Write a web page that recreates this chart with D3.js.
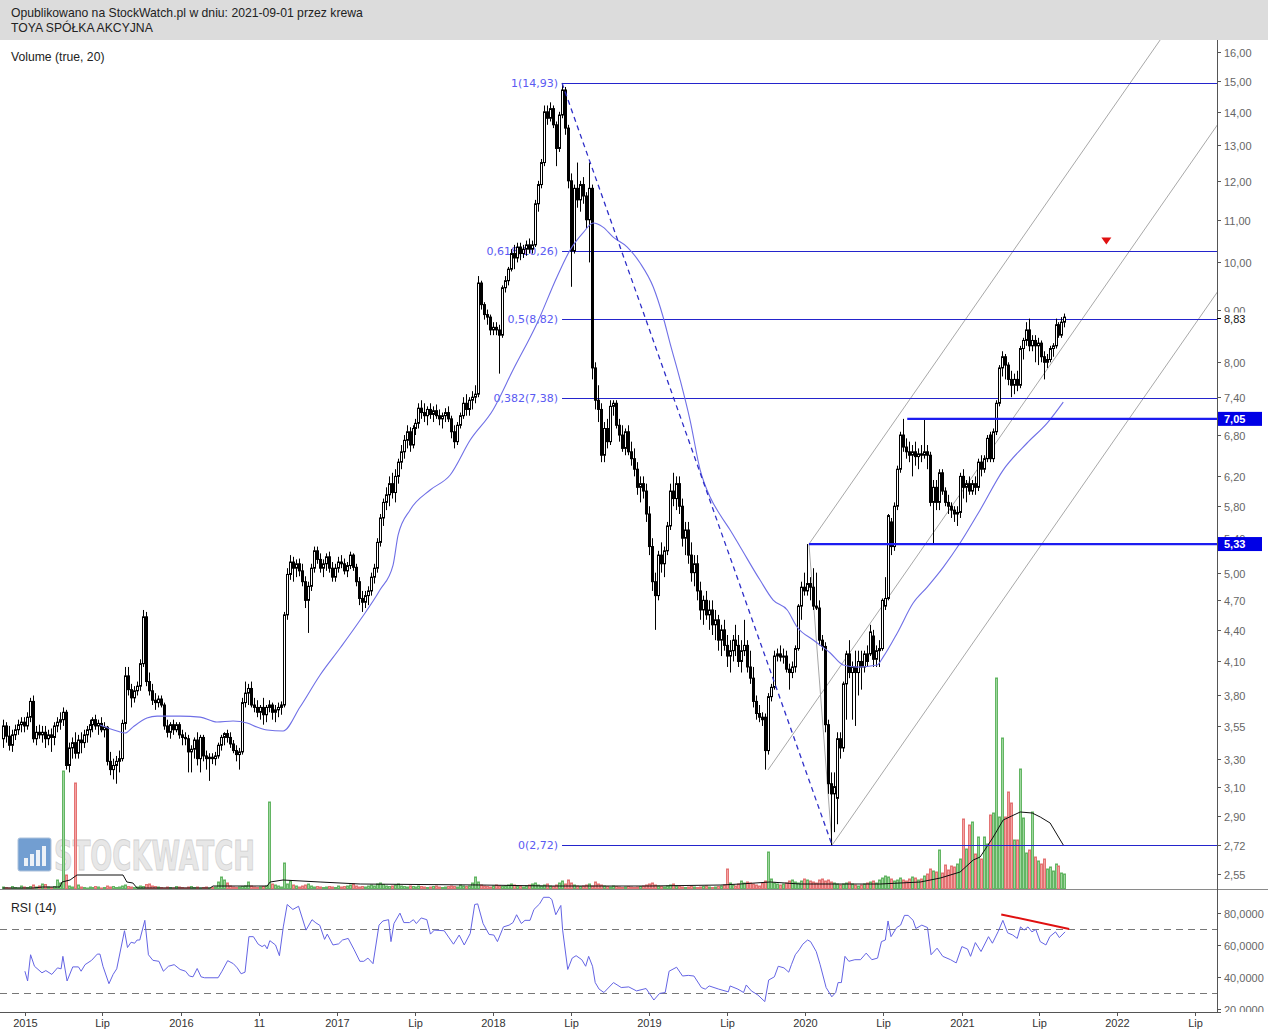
<!DOCTYPE html>
<html><head><meta charset="utf-8">
<script src="https://cdn.jsdelivr.net/npm/d3@7"></script>
<style>body{margin:0;background:#fff;}svg{display:block;font-family:"Liberation Sans",Arial,sans-serif;}</style>
</head><body><svg id="c" width="1268" height="1030"></svg>
<script>
const headerLine1 = "Opublikowano na StockWatch.pl w dniu: 2021-09-01 przez krewa";
const headerLine2 = "TOYA SPÓŁKA AKCYJNA";
const volumeTitle = "Volume (true, 20)";
const rsiTitle = "RSI (14)";
const weekStart = "2014-11-10";

const open = [3.45,3.55,3.47,3.40,3.48,3.52,3.56,3.58,3.55,3.62,
3.75,3.45,3.50,3.48,3.50,3.45,3.48,3.46,3.55,3.58,
3.60,3.66,3.25,3.38,3.42,3.34,3.44,3.42,3.48,3.52,
3.56,3.60,3.55,3.57,3.52,3.54,3.28,3.22,3.25,3.28,
3.30,3.57,3.97,3.85,3.78,3.84,3.88,4.08,4.53,3.92,
3.84,3.76,3.74,3.77,3.72,3.55,3.50,3.56,3.52,3.56,
3.48,3.46,3.45,3.35,3.37,3.44,3.30,3.46,3.32,3.30,
3.31,3.30,3.32,3.40,3.46,3.49,3.46,3.41,3.36,3.33,
3.35,3.74,3.82,3.86,3.72,3.70,3.66,3.70,3.64,3.70,
3.72,3.66,3.68,3.70,3.72,4.55,4.98,5.12,5.05,5.10,
5.02,4.90,4.70,4.85,5.05,5.25,5.15,5.05,5.10,5.18,
5.05,4.95,5.05,5.12,5.10,5.02,5.08,5.20,5.06,4.90,
4.72,4.68,4.75,4.80,4.95,5.05,5.35,5.65,5.85,5.95,
6.10,5.98,6.20,6.40,6.55,6.72,6.85,6.65,6.90,6.98,
7.22,7.15,7.10,7.20,7.12,7.18,7.10,7.05,7.10,7.15,
7.05,6.85,6.70,6.95,7.10,7.30,7.20,7.35,7.40,7.45,
9.55,9.10,8.90,8.85,8.60,8.65,8.60,8.50,9.45,9.60,
9.85,10.20,10.10,10.35,10.20,10.30,10.40,10.30,10.40,11.40,
11.90,12.50,14.00,13.80,14.10,13.60,12.90,13.90,14.70,13.50,
12.00,10.26,11.80,11.50,11.90,11.60,11.00,11.80,7.90,7.35,
7.20,6.50,6.90,6.70,7.25,7.30,6.95,6.80,6.60,6.85,
6.55,6.45,6.30,6.05,6.10,6.00,5.70,5.30,4.90,4.75,
5.20,5.10,5.25,5.55,6.00,5.90,6.10,5.80,5.40,5.50,
5.20,5.00,5.10,4.80,4.60,4.70,4.55,4.60,4.45,4.50,
4.30,4.40,4.25,4.15,4.20,4.30,4.25,4.10,4.20,4.25,
4.05,3.95,3.75,3.65,3.62,3.62,3.36,3.79,3.87,4.15,
4.17,4.14,4.15,4.03,4.00,4.05,4.22,4.64,4.84,4.80,
4.88,4.84,4.64,4.62,4.30,4.24,3.56,3.12,3.05,3.02,
3.45,3.38,3.90,4.17,4.00,4.05,4.00,4.10,4.05,4.17,
4.17,4.34,4.12,4.20,4.22,4.64,4.72,5.60,5.30,5.80,
6.30,6.80,6.62,6.55,6.50,6.55,6.48,6.52,6.50,6.55,
6.50,5.85,6.05,5.85,6.25,6.00,5.85,5.80,5.75,5.70,
5.72,6.20,6.05,6.10,6.00,6.10,6.05,6.40,6.30,6.45,
6.80,6.45,6.85,7.30,7.90,8.10,7.95,7.70,7.60,7.70,
7.60,8.25,8.40,8.60,8.30,8.40,8.30,8.35,8.10,8.00,
8.05,8.25,8.30,8.70,8.50,8.75];

const high = [3.60,3.58,3.55,3.52,3.56,3.60,3.62,3.62,3.66,3.78,
3.80,3.55,3.56,3.55,3.55,3.52,3.53,3.58,3.62,3.66,
3.70,3.68,3.42,3.46,3.50,3.48,3.50,3.52,3.55,3.60,
3.62,3.64,3.60,3.62,3.58,3.55,3.35,3.30,3.32,3.36,
3.60,4.05,4.05,3.90,3.88,3.92,4.12,4.60,4.58,4.00,
3.90,3.82,3.80,3.80,3.74,3.60,3.58,3.60,3.58,3.58,
3.52,3.50,3.48,3.40,3.46,3.50,3.48,3.48,3.36,3.34,
3.34,3.35,3.42,3.48,3.50,3.52,3.50,3.44,3.40,3.38,
3.78,3.92,3.90,3.92,3.78,3.76,3.72,3.78,3.72,3.76,
3.74,3.72,3.74,3.75,4.58,5.05,5.20,5.18,5.15,5.16,
5.10,4.96,4.90,5.10,5.30,5.30,5.22,5.15,5.22,5.24,
5.12,5.10,5.18,5.20,5.16,5.12,5.24,5.22,5.10,4.95,
4.80,4.80,4.85,5.00,5.10,5.40,5.70,5.90,6.05,6.20,
6.25,6.30,6.45,6.65,6.80,6.95,6.92,6.95,7.05,7.30,
7.35,7.30,7.25,7.30,7.25,7.28,7.20,7.15,7.22,7.25,
7.10,6.95,7.00,7.15,7.40,7.45,7.40,7.50,7.60,9.70,
9.60,9.15,9.00,8.90,8.75,8.75,8.70,9.50,9.70,9.90,
10.30,10.40,10.45,10.45,10.40,10.50,10.55,10.50,11.50,12.00,
12.60,14.20,14.20,14.30,14.20,13.70,14.00,14.93,14.80,13.60,
12.20,11.90,12.50,12.00,12.10,11.70,12.50,11.90,8.00,7.60,
7.30,7.00,7.05,7.35,7.35,7.35,7.05,6.95,6.90,6.95,
6.70,6.60,6.40,6.20,6.20,6.10,5.80,5.40,5.00,5.25,
5.35,5.30,5.60,6.10,6.25,6.20,6.20,5.90,5.60,5.60,
5.35,5.20,5.20,4.90,4.75,4.80,4.70,4.70,4.60,4.55,
4.45,4.50,4.35,4.30,4.35,4.45,4.35,4.30,4.50,4.30,
4.20,4.05,3.80,3.72,3.66,3.65,3.82,3.90,4.20,4.22,
4.25,4.22,4.20,4.08,4.10,4.25,4.66,4.90,5.00,5.33,
4.95,5.05,5.00,4.70,4.35,4.28,3.60,3.20,3.20,3.50,
3.50,3.92,4.20,4.30,4.10,4.20,4.20,4.20,4.20,4.25,
4.45,4.40,4.25,4.30,4.72,4.95,5.70,5.65,5.85,6.35,
6.85,7.05,6.75,6.70,6.65,6.70,6.60,6.65,7.05,6.65,
6.55,6.15,6.15,6.30,6.30,6.05,5.95,5.85,5.80,5.80,
6.25,6.30,6.15,6.20,6.15,6.20,6.45,6.50,6.50,6.80,
6.85,6.90,7.35,7.95,8.20,8.15,8.00,7.85,7.80,7.85,
8.30,8.45,8.75,8.82,8.50,8.50,8.45,8.40,8.20,8.15,
8.30,8.35,8.82,8.75,8.85,8.92];

const low = [3.38,3.42,3.36,3.35,3.44,3.48,3.50,3.50,3.52,3.58,
3.42,3.40,3.45,3.42,3.38,3.40,3.35,3.40,3.50,3.52,
3.55,3.22,3.20,3.30,3.30,3.30,3.34,3.38,3.42,3.46,
3.50,3.52,3.48,3.50,3.46,3.25,3.18,3.15,3.12,3.20,
3.28,3.52,3.80,3.70,3.74,3.80,3.84,4.05,3.88,3.80,
3.72,3.68,3.70,3.70,3.52,3.46,3.45,3.48,3.50,3.45,
3.40,3.40,3.20,3.20,3.30,3.25,3.20,3.28,3.22,3.14,
3.26,3.25,3.30,3.36,3.40,3.42,3.38,3.34,3.28,3.22,
3.33,3.70,3.72,3.70,3.66,3.62,3.60,3.56,3.58,3.66,
3.60,3.58,3.62,3.64,3.70,4.50,4.92,4.90,4.95,4.96,
4.85,4.62,4.37,4.80,5.00,5.10,5.00,4.95,5.02,5.00,
4.90,4.90,5.00,5.05,4.98,4.95,5.04,5.02,4.85,4.65,
4.58,4.62,4.65,4.75,4.88,5.00,5.30,5.55,5.75,5.80,
5.90,5.85,6.10,6.30,6.45,6.60,6.55,6.60,6.80,6.90,
7.05,7.00,6.95,7.05,7.00,7.05,6.95,6.90,7.00,7.00,
6.75,6.60,6.65,6.90,7.05,7.10,7.10,7.20,7.30,7.40,
9.00,8.80,8.70,8.50,8.50,8.50,7.80,8.45,9.35,9.50,
9.80,9.85,10.00,10.05,10.10,10.15,10.20,10.20,10.35,11.20,
11.80,12.40,13.60,13.70,13.50,12.40,12.80,13.80,13.30,11.80,
9.47,10.20,11.30,11.20,11.40,10.80,10.00,7.70,7.20,7.00,
6.40,6.40,6.60,6.65,7.10,6.90,6.70,6.55,6.50,6.50,
6.35,6.20,5.95,5.85,5.90,5.60,5.20,4.80,4.40,4.70,
5.00,4.95,5.20,5.50,5.80,5.75,5.70,5.30,5.20,5.10,
4.90,4.85,4.70,4.50,4.45,4.50,4.40,4.35,4.30,4.20,
4.15,4.20,4.05,4.00,4.10,4.15,4.05,4.00,4.15,4.00,
3.90,3.70,3.60,3.58,3.55,3.22,3.33,3.75,3.85,4.10,
4.10,4.08,4.00,3.85,3.95,4.00,4.20,4.50,4.75,4.75,
4.70,4.60,4.60,4.25,4.20,3.50,3.05,2.72,2.80,2.85,
3.30,3.35,3.60,3.95,3.60,3.55,3.80,3.85,4.00,4.05,
4.15,4.05,4.05,4.05,4.20,4.60,4.70,5.20,5.25,5.75,
6.25,6.55,6.45,6.40,6.20,6.35,6.30,6.40,6.45,6.30,
5.80,5.33,5.75,5.75,5.95,5.80,5.70,5.65,5.60,5.55,
5.65,5.90,5.85,5.95,5.95,5.95,6.00,6.20,6.25,6.40,
6.40,6.40,6.80,7.25,7.75,7.70,7.60,7.40,7.45,7.50,
7.55,8.05,8.30,8.20,8.20,8.00,7.95,8.00,7.70,7.90,
8.00,8.10,8.25,8.45,8.45,8.65];

const close = [3.55,3.47,3.40,3.48,3.52,3.56,3.58,3.55,3.62,3.75,
3.45,3.50,3.48,3.50,3.45,3.48,3.46,3.55,3.58,3.60,
3.66,3.25,3.38,3.42,3.34,3.44,3.42,3.48,3.52,3.56,
3.60,3.55,3.57,3.52,3.54,3.28,3.22,3.25,3.28,3.30,
3.57,3.97,3.85,3.78,3.84,3.88,4.08,4.53,3.92,3.84,
3.76,3.74,3.77,3.72,3.55,3.50,3.56,3.52,3.56,3.48,
3.46,3.45,3.35,3.37,3.44,3.30,3.46,3.32,3.30,3.31,
3.30,3.32,3.40,3.46,3.49,3.46,3.41,3.36,3.33,3.35,
3.74,3.82,3.86,3.72,3.70,3.66,3.70,3.64,3.70,3.72,
3.66,3.68,3.70,3.72,4.55,4.98,5.12,5.05,5.10,5.02,
4.90,4.70,4.85,5.05,5.25,5.15,5.05,5.10,5.18,5.05,
4.95,5.05,5.12,5.10,5.02,5.08,5.20,5.06,4.90,4.72,
4.68,4.75,4.80,4.95,5.05,5.35,5.65,5.85,5.95,6.10,
5.98,6.20,6.40,6.55,6.72,6.85,6.65,6.90,6.98,7.22,
7.15,7.10,7.20,7.12,7.18,7.10,7.05,7.10,7.15,7.05,
6.85,6.70,6.95,7.10,7.30,7.20,7.35,7.40,7.45,9.55,
9.10,8.90,8.85,8.60,8.65,8.60,8.50,9.45,9.60,9.85,
10.20,10.10,10.35,10.20,10.30,10.40,10.30,10.40,11.40,11.90,
12.50,14.00,13.80,14.10,13.60,12.90,13.90,14.70,13.50,12.00,
10.26,11.80,11.50,11.90,11.60,11.00,11.80,7.90,7.35,7.20,
6.50,6.90,6.70,7.25,7.30,6.95,6.80,6.60,6.85,6.55,
6.45,6.30,6.05,6.10,6.00,5.70,5.30,4.90,4.75,5.20,
5.10,5.25,5.55,6.00,5.90,6.10,5.80,5.40,5.50,5.20,
5.00,5.10,4.80,4.60,4.70,4.55,4.60,4.45,4.50,4.30,
4.40,4.25,4.15,4.20,4.30,4.25,4.10,4.20,4.25,4.05,
3.95,3.75,3.65,3.62,3.60,3.36,3.79,3.87,4.15,4.17,
4.14,4.15,4.03,4.00,4.05,4.22,4.64,4.84,4.80,4.88,
4.84,4.64,4.62,4.30,4.24,3.56,3.12,3.05,3.10,3.45,
3.38,3.90,4.17,4.00,4.05,4.00,4.10,4.05,4.17,4.10,
4.38,4.12,4.20,4.22,4.70,4.72,5.68,5.30,5.80,6.30,
6.80,6.62,6.55,6.50,6.55,6.48,6.52,6.50,6.55,6.50,
5.85,6.05,5.85,6.25,6.00,5.85,5.80,5.75,5.70,5.72,
6.20,6.05,6.10,6.00,6.10,6.05,6.40,6.30,6.45,6.75,
6.45,6.85,7.30,7.90,8.10,7.95,7.70,7.60,7.70,7.60,
8.25,8.40,8.60,8.30,8.40,8.30,8.35,8.10,8.00,8.05,
8.25,8.30,8.70,8.50,8.75,8.85];

const volume = [20,15,10,25,15,10,30,20,15,25,
40,20,30,50,45,20,15,25,90,60,
1180,140,30,20,1060,40,20,15,10,20,
15,25,20,10,15,30,20,25,15,20,
30,40,25,20,15,20,30,25,45,50,
30,25,20,15,10,20,15,10,25,20,
15,10,20,25,15,20,10,15,20,10,
15,20,70,120,90,60,30,20,15,20,
25,30,70,30,20,15,20,25,30,870,
50,40,30,20,260,50,80,40,30,20,
30,40,50,30,20,25,20,15,20,25,
20,15,30,20,25,30,40,50,30,20,
25,20,30,40,30,50,60,45,30,25,
30,40,50,30,25,20,30,25,20,30,
25,20,15,20,25,30,20,15,20,25,
30,25,20,40,30,25,30,60,120,70,
40,30,25,20,30,40,30,25,30,40,
50,40,30,25,20,30,40,50,60,40,
30,40,50,30,25,40,60,80,50,90,
60,40,30,25,30,40,50,30,70,50,
40,30,25,20,30,25,20,15,20,25,
20,15,20,25,30,40,50,60,40,30,
25,20,30,40,50,30,25,20,15,20,
25,20,15,20,25,30,20,15,20,25,
30,40,200,60,40,30,50,80,60,70,
60,50,40,30,60,80,370,100,60,50,
40,50,60,80,90,70,60,80,100,90,
80,70,60,90,100,80,90,70,60,50,
40,50,60,70,50,40,30,40,50,60,
70,80,60,90,110,130,120,100,80,90,
110,90,80,100,120,110,90,100,130,150,
200,180,170,390,160,240,190,230,220,250,
300,700,400,640,670,350,520,300,520,450,
740,760,2110,720,1510,720,970,860,490,490,
1200,710,360,390,770,320,280,250,300,200,
220,180,250,230,160,150];

const maWeeks = [32.5,38.2,40.9,43.5,48.2,51.6,59.3,66,71.6,77,81.7,85,88.4,93.7,99.4,106.1,112.8,119.5,126.1,130.5,132.2,136.2,142.9,149.6,156.3,163.9,170.6,178.7,185.3,189.7,194,197.4,200.7,204.1,208.8,213.1,217.5,220.8,223.1,226.5,229.8,233.2,236.5,239.9,243.2,246.6,253.2,257.6,262.3,265.6,271,276.7,281,285.7,292.4,294.4,299.1,304.4,309.1,314.5,320.1,326.8,334.5,342.5,349.2,354.6];
const maValues = [3.557,3.510,3.494,3.541,3.613,3.629,3.629,3.621,3.581,3.589,3.573,3.541,3.518,3.510,3.703,3.978,4.225,4.498,4.809,5.086,5.439,5.752,6.014,6.219,6.724,7.191,7.863,8.735,9.680,10.28,10.68,10.92,10.82,10.58,10.35,9.986,9.465,8.852,8.352,7.689,7.031,6.288,5.920,5.687,5.500,5.295,4.918,4.703,4.600,4.428,4.301,4.178,4.068,4.049,4.068,4.142,4.370,4.672,4.842,5.063,5.342,5.752,6.288,6.680,6.984,7.320];

const volMaWeeks = [0,10.1,13.4,19.1,19.8,22.5,24.8,40.2,41.5,43.5,44.9,69.3,70.3,88.4,89.4,93.7,106.1,119.5,159.6,183,216.4,240.1,246.6,256.6,266.6,276.7,293.4,306.8,313.5,320.1,324.5,326.8,331.2,334.5,340.2,344.2,346.9,350.2,354.6];
const volMaValues = [10,10,20,20,70,90,140,140,70,60,10,10,30,30,70,90,70,50,40,30,30,40,50,70,50,50,50,70,110,170,290,320,520,690,770,760,720,660,440];

const rsiWeeks = [7.4,8.3,9.3,10.6,13.1,14.4,16.4,18.3,19.5,20.1,21.5,23.4,25.3,26.2,27.5,29.7,31.6,32.5,33.5,35.5,36.9,38.1,40.7,41.7,42.9,44.1,44.9,45.8,47.5,48.7,50.2,52.2,53.7,55.4,57.3,59.3,61.1,62.4,63.6,65,66.3,67.5,72,73.3,75.2,77.1,78.4,79.7,81,82.3,83.8,85.4,86.7,87.6,88.4,89.3,91.2,92.5,93.8,95.1,97,98.9,101.4,103.4,104.7,106,107.6,108.5,110.4,112.3,113.6,115.5,117.5,119.4,120.7,122.1,123.8,125.8,127.1,129,129.8,130.8,132.8,134.1,136,137.3,138.3,139.9,141.8,143,144.3,147.6,150.7,152.6,154.3,156.3,157.8,158.8,160.6,162.6,164.2,165.4,167.4,169.3,170.6,171.8,173.4,174.6,176.3,177.6,179.5,180.8,182.7,183.6,184.9,186.6,187.2,188.9,190.4,191.7,193.6,194.9,195.9,197.2,198.1,199.4,201,204.2,206.8,209.3,211.9,215.1,217.7,219.6,221.5,222.8,225.3,227.3,229.2,231.1,233.6,234.9,236.2,239.4,242.6,243.2,245.8,247.7,248.6,250.3,252.5,254.8,256.1,258,259.3,261.2,262.8,263.7,265,266.3,267.5,269.1,270.1,272,273.3,275.3,277.2,278.5,279.3,280.4,281.6,282.9,284.9,286.8,288.7,290.6,292.5,293.8,295.1,296,297,298.9,300.2,301.5,302.7,304.4,305.3,307.3,309.2,310.4,312.4,314.3,316.9,318.8,320.7,322.6,323.6,325.2,327.1,329.6,330.9,332.8,334.4,336,337.7,339.2,340.3,341.5,342.8,344.1,345.4,346.9,348.8,350.1,352,353.3,355.2];
const rsiValues = [43.3,37.2,53.6,46.4,42.3,43.7,41.3,45.4,44.8,52.6,37.2,46,46,43.3,47.4,50.1,54,54,46.4,35.5,41.3,44.8,68.6,58.1,61.4,60.8,62.8,62.8,75.1,53.6,50.1,49.5,43.3,46.4,47.4,44.4,43.3,40.3,39.8,45,39.8,39.2,39.2,43.3,49.9,48,45.4,41.7,42.7,64.9,64.9,60.2,58.7,59.7,57.3,62.4,59.7,53,71,85,81.9,83.9,69,75.5,73.5,72,63.2,66.5,59.7,60.4,62.8,63.8,56.7,49.5,49.5,51.5,48,72.1,74.7,75.5,61.8,73.1,79.6,73.7,73.7,75.5,73.1,76.6,75.5,66.5,69,68.6,60.2,65.9,59.7,66.9,85,85.4,73.1,66.3,65.9,61.8,71,72.1,73.7,78.6,73.1,75.1,75.1,81.9,85.4,89.5,89.5,88.1,78.6,84.4,69,44.4,51.5,53,50.5,46.4,52.6,46.4,36.2,32.1,30,36.2,33.1,33.5,31,32.5,25.3,29.4,30,43.3,45.8,40.3,40.7,40.3,33.1,32.1,34.1,32.1,30.4,34.1,32.1,30,34.7,31,28.4,24.3,37.8,39.8,46.4,45.4,42.7,47.4,53.6,56.7,60.2,62.8,61.8,55.6,47.4,33.1,27.3,30,36.2,36.2,52.6,49.5,50.5,50.5,54.6,50.5,51.5,61.8,62.8,74.7,64.9,70.6,72.1,78.2,78.2,75.1,70,72.1,70.6,53.6,57.7,52.6,50.5,48.5,58.7,57.1,52.6,61.2,55.6,64.9,60.8,68,75.1,67.3,65.9,63.8,71,69,71,67.9,69.4,61.8,59.7,64.9,67.9,64.3,67.9];

const fibValues = [14.93,10.26,8.82,7.38,2.72];
const fibLabels = ["1(14,93)","0,618(10,26)","0,5(8,82)","0,382(7,38)","0(2,72)"];
const fibStartDate = "2018-06-11";
const fibEndDate = "2020-03-04";
const levelLines = [5.33, 7.05];
const levelStartDates = ["2020-01-10", "2020-08-27"];
const lastPrice = 8.83;
const pitchforkDates = ["2019-10-06","2020-01-10","2020-03-04"];
const pitchforkPrices = [3.217,5.33,2.72];
const markerDate = "2021-12-06";
const markerPrice = 10.5;
const rsiTrendDates = ["2021-04-04","2021-09-10"];
const rsiTrendValues = [78.8,69.7];

const priceTicks = [16,15,14,13,12,11,10,9,8,7.4,6.8,6.2,5.8,5.4,5,4.7,4.4,4.1,3.8,3.55,3.3,3.1,2.9,2.72,2.55];
const rsiTicks = [20,40,60,80];
const rsiBands = [30,70];
const timeTicks = ["2015-01-01","2015-07-01","2016-01-01","2016-07-01","2017-01-01","2017-07-01","2018-01-01","2018-07-01","2019-01-01","2019-07-01","2020-01-01","2020-07-01","2021-01-01","2021-07-01","2022-01-01","2022-07-01"];
const timeTickLabels = ["2015","Lip","2016","11","2017","Lip","2018","Lip","2019","Lip","2020","Lip","2021","Lip","2022","Lip"];

// ---------- layout ----------
const W = 1268, H = 1030;
const plotR = 1217, mainT = 40, mainB = 889, rsiB = 1012;
const parse = d3.utcParse("%Y-%m-%d");
const start = parse(weekStart);
const weekDate = w => new Date(start.getTime() + w * 7 * 864e5);

const x = d3.scaleUtc().domain([Date.UTC(2014,10,3,12), Date.UTC(2022,7,22)]).range([0, plotR]);
const y = d3.scaleLog().domain([2.4661, 16.437]).range([mainB, mainT]);
const yVol = d3.scaleLinear().domain([0, 2290]).range([mainB, 660]);
const yRsi = d3.scaleLinear().domain([30, 70]).range([992.5, 928.5]);

const svg = d3.select("#c");
const defs = svg.append("defs");
defs.append("clipPath").attr("id","clipMain").append("rect").attr("x",0).attr("y",mainT).attr("width",plotR).attr("height",mainB-mainT);
defs.append("clipPath").attr("id","clipRsi").append("rect").attr("x",0).attr("y",mainB).attr("width",plotR).attr("height",rsiB-mainB);
defs.append("clipPath").attr("id","clipRsiAxis").append("rect").attr("x",plotR).attr("y",mainB+1).attr("width",W-plotR).attr("height",rsiB-mainB-1);

svg.append("rect").attr("width",W).attr("height",H).attr("fill","#fff");
// header
svg.append("rect").attr("x",0).attr("y",0).attr("width",W).attr("height",mainT).attr("fill","#dcdcdc");
svg.append("text").attr("x",11).attr("y",17).attr("font-size",12.2).attr("fill","#222").text(headerLine1);
svg.append("text").attr("x",11).attr("y",32).attr("font-size",12.2).attr("fill","#222").text(headerLine2);

const gMain = svg.append("g").attr("clip-path","url(#clipMain)");

// watermark
const wm = gMain.append("g").attr("opacity",0.8);
wm.append("rect").attr("x",18).attr("y",838).attr("width",33).attr("height",33).attr("rx",2).attr("fill","#4f86c6").attr("stroke","#9ab4d4");
[[24,858,4,8],[30,854,4,12],[36,850,4,16],[42,846,4,20]].forEach(b=>wm.append("rect").attr("x",b[0]).attr("y",b[1]).attr("width",b[2]).attr("height",b[3]).attr("fill","#e8eef6"));
wm.append("text").attr("x",54).attr("y",870).attr("font-size",40).attr("font-weight","bold")
  .attr("font-family","'DejaVu Sans Condensed','DejaVu Sans',sans-serif")
  .attr("textLength",201).attr("lengthAdjust","spacingAndGlyphs")
  .attr("fill","#e2e2e2").attr("stroke","#c4c4c4").attr("stroke-width",0.8).text("STOCKWATCH");

const candles = close.map((c,i)=>({d: d3.utcDay.offset(start, 7*i), o: open[i], h: high[i], l: low[i], c, v: volume[i]}));
const px = d => Math.round(x(d));

// volume bars
gMain.append("g").selectAll("rect").data(candles).join("rect")
  .attr("x", d => px(d.d) - 0.5).attr("width", 2)
  .attr("y", d => yVol(d.v)).attr("height", d => Math.max(0.5, mainB - yVol(d.v)))
  .attr("fill", d => d.c >= d.o ? "#9fd79f" : "#f5a3a3")
  .attr("stroke", d => d.c >= d.o ? "#63b563" : "#e37373").attr("stroke-width",1);

// volume MA
gMain.append("path").datum(volMaWeeks.map((w,i)=>[w, volMaValues[i]]))
  .attr("fill","none").attr("stroke","#111").attr("stroke-width",1)
  .attr("d", d3.line().x(p=>x(weekDate(p[0]))).y(p=>yVol(p[1])));

svg.append("text").attr("x",11).attr("y",61).attr("font-size",12.2).attr("fill","#222").text(volumeTitle);

// fib labels (under candles)
const fibX0 = x(parse(fibStartDate));
fibValues.forEach((v,i)=>{
  gMain.append("text").attr("x", fibX0 - 4).attr("y", y(v) + 4).attr("text-anchor","end")
    .attr("font-family","'DejaVu Sans',Verdana,sans-serif").attr("font-size",11).attr("fill","#5a5af2").text(fibLabels[i]);
});

// pitchfork (gray)
const P = pitchforkDates.map((d,i)=>[x(parse(d)), y(pitchforkPrices[i])]);
const mid = [(P[1][0]+P[2][0])/2, (P[1][1]+P[2][1])/2];
const slope = (mid[1]-P[0][1])/(mid[0]-P[0][0]);
const gPf = gMain.append("g").attr("stroke","#a8a8a8").attr("stroke-width",1).attr("fill","none");
P.forEach(p=>{
  const x2 = plotR + 20, y2 = p[1] + slope*(x2-p[0]);
  gPf.append("line").attr("x1",p[0]).attr("y1",p[1]).attr("x2",x2).attr("y2",y2);
});
gPf.append("line").attr("x1",P[1][0]).attr("y1",P[1][1]).attr("x2",P[2][0]).attr("y2",P[2][1]);

// fib lines
fibValues.forEach(v=>{
  gMain.append("line").attr("x1",fibX0).attr("x2",plotR).attr("y1",Math.round(y(v))+0.5).attr("y2",Math.round(y(v))+0.5)
    .attr("stroke","#2424cc").attr("stroke-width",1.1);
});

// candles
const gC = gMain.append("g");
gC.selectAll("line").data(candles).join("line")
  .attr("x1", d=>px(d.d)+0.5).attr("x2", d=>px(d.d)+0.5)
  .attr("y1", d=>y(d.h)).attr("y2", d=>y(d.l)).attr("stroke","#000").attr("stroke-width",1);
gC.selectAll("rect").data(candles).join("rect")
  .attr("x", d=>px(d.d)-0.5).attr("width",2)
  .attr("y", d=>y(Math.max(d.o,d.c))).attr("height", d=>Math.max(0.8, Math.abs(y(d.o)-y(d.c))))
  .attr("fill", d=> d.c >= d.o ? "#fff" : "#000").attr("stroke","#000").attr("stroke-width",1);

// moving average
gMain.append("path").datum(maWeeks.map((w,i)=>[w, maValues[i]]))
  .attr("fill","none").attr("stroke","#6f6fe6").attr("stroke-width",1.1)
  .attr("d", d3.line().curve(d3.curveMonotoneX).x(p=>x(weekDate(p[0]))).y(p=>y(p[1])));

// fib trend dashed
gMain.append("line").attr("x1",fibX0).attr("y1",y(fibValues[0])).attr("x2",x(parse(fibEndDate))).attr("y2",y(fibValues[4]))
  .attr("stroke","#3030c8").attr("stroke-width",1.3).attr("stroke-dasharray","5,4");

// level lines
levelLines.forEach((v,i)=>{
  gMain.append("line").attr("x1",x(parse(levelStartDates[i]))).attr("x2",plotR).attr("y1",y(v)).attr("y2",y(v))
    .attr("stroke","#1c1cf0").attr("stroke-width",2.2);
});

// marker
const mx = x(parse(markerDate)), my = y(markerPrice);
gMain.append("path").attr("d", `M${mx-5},${my-3}L${mx+5},${my-3}L${mx},${my+4}Z`).attr("fill","#e01010");

// ---------- RSI ----------
const gR = svg.append("g").attr("clip-path","url(#clipRsi)");
rsiBands.forEach(b=>{
  gR.append("line").attr("x1",0).attr("x2",plotR).attr("y1",Math.round(yRsi(b))+0.5).attr("y2",Math.round(yRsi(b))+0.5)
    .attr("stroke","#777").attr("stroke-dasharray","7,5").attr("stroke-width",1);
});
gR.append("path").datum(rsiWeeks.map((w,i)=>[w, rsiValues[i]]))
  .attr("fill","none").attr("stroke","#6464e4").attr("stroke-width",1)
  .attr("d", d3.line().x(p=>x(weekDate(p[0]))).y(p=>yRsi(p[1])));
gR.append("line").attr("x1",x(parse(rsiTrendDates[0]))).attr("y1",yRsi(rsiTrendValues[0]))
  .attr("x2",x(parse(rsiTrendDates[1]))).attr("y2",yRsi(rsiTrendValues[1])).attr("stroke","#e01010").attr("stroke-width",2);
svg.append("text").attr("x",11).attr("y",912).attr("font-size",12.2).attr("fill","#222").text(rsiTitle);

// panel separator & axes
svg.append("line").attr("x1",0).attr("x2",W).attr("y1",mainB+0.5).attr("y2",mainB+0.5).attr("stroke","#8a8a8a");
svg.append("line").attr("x1",plotR+0.5).attr("x2",plotR+0.5).attr("y1",mainT).attr("y2",rsiB).attr("stroke","#555");
svg.append("line").attr("x1",0).attr("x2",plotR+4).attr("y1",rsiB+0.5).attr("y2",rsiB+0.5).attr("stroke","#555");

const fmt2 = v => v.toFixed(2).replace(".", ",");
const gY = svg.append("g").attr("font-size",11).attr("fill","#666");
priceTicks.forEach(t=>{
  const yy = Math.round(y(t))+0.5;
  gY.append("line").attr("x1",plotR).attr("x2",plotR+4).attr("y1",yy).attr("y2",yy).attr("stroke","#555");
  gY.append("text").attr("x",plotR+7).attr("y",yy+4).text(fmt2(t));
});
// last price label
{
  const yy = Math.round(y(lastPrice))+0.5;
  svg.append("rect").attr("x",plotR+5).attr("y",yy-6).attr("width",40).attr("height",12).attr("fill","#fff");
  svg.append("line").attr("x1",plotR).attr("x2",plotR+4).attr("y1",yy).attr("y2",yy).attr("stroke","#000");
  svg.append("text").attr("x",plotR+7).attr("y",yy+4).attr("font-size",11).attr("fill","#111").text(fmt2(lastPrice));
}
levelLines.forEach(v=>{
  const yy = y(v);
  svg.append("rect").attr("x",plotR+1).attr("y",yy-7).attr("width",44).attr("height",14).attr("fill","#0000e6");
  svg.append("text").attr("x",plotR+7).attr("y",yy+4).attr("font-size",11).attr("font-weight","bold").attr("fill","#fff").text(fmt2(v));
});

const gRA = svg.append("g").attr("clip-path","url(#clipRsiAxis)").attr("font-size",11).attr("fill","#666");
rsiTicks.forEach(t=>{
  const yy = Math.round(yRsi(t))+0.5;
  gRA.append("line").attr("x1",plotR).attr("x2",plotR+4).attr("y1",yy).attr("y2",yy).attr("stroke","#555");
  gRA.append("text").attr("x",plotR+7).attr("y",yy+4).text(t.toFixed(4).replace(".", ","));
});

const gX = svg.append("g").attr("font-size",11).attr("fill","#333");
timeTicks.forEach((t,i)=>{
  const xx = Math.round(x(parse(t)))+0.5;
  gX.append("line").attr("x1",xx).attr("x2",xx).attr("y1",rsiB).attr("y2",rsiB+4).attr("stroke","#555");
  gX.append("text").attr("x",xx).attr("y",rsiB+15).attr("text-anchor","middle").text(timeTickLabels[i]);
});
</script></body></html>
